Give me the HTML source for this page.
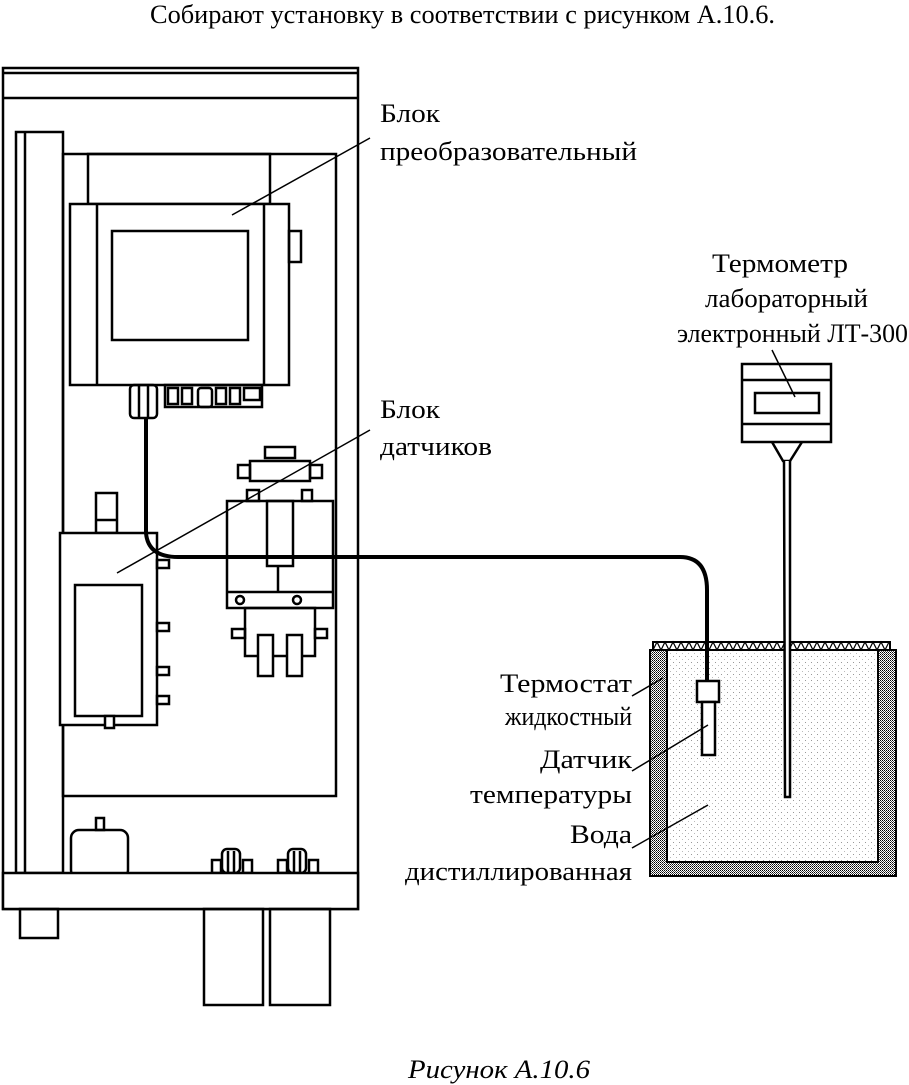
<!DOCTYPE html>
<html><head><meta charset="utf-8"><style>
html,body{margin:0;padding:0;background:#fff;}
svg{display:block;}
text{font-family:"Liberation Serif","Noto Serif CJK SC",serif;font-size:26px;fill:#000;}
</style></head><body>
<svg width="909" height="1085" viewBox="0 0 909 1085" xmlns="http://www.w3.org/2000/svg">
<defs>
<pattern id="dots" width="6" height="6" patternUnits="userSpaceOnUse"><rect width="6" height="6" fill="#fff"/><rect x="1" y="2" width="1" height="1" fill="#999"/><rect x="4" y="5" width="1" height="1" fill="#bbb"/></pattern>
<pattern id="wall" width="2" height="2" patternUnits="userSpaceOnUse"><rect width="2" height="2" fill="#fff"/><rect width="1" height="1" fill="#000"/><rect x="1" y="1" width="1" height="1" fill="#444"/></pattern>
</defs>
<text x="150" y="23" textLength="625" lengthAdjust="spacingAndGlyphs">Собирают установку в соответствии с рисунком А.10.6.</text>
<g fill="none" stroke="#000" stroke-width="2.5">
<!-- cabinet -->
<rect x="3" y="68" width="355" height="841"/>
<line x1="3" y1="73" x2="358" y2="73"/>
<line x1="3" y1="98" x2="358" y2="98"/>
<rect x="16" y="132" width="47" height="741"/>
<line x1="25" y1="132" x2="25" y2="873"/>
<rect x="63" y="154" width="273" height="642"/>
<!-- transducer -->
<rect x="88" y="154" width="182" height="50"/>
<rect x="70" y="204" width="219" height="181" fill="#fff"/>
<line x1="97" y1="204" x2="97" y2="385"/>
<line x1="264" y1="204" x2="264" y2="385"/>
<rect x="112" y="231" width="136" height="109"/>
<rect x="289" y="231" width="12" height="31"/>
<rect x="130" y="385" width="27" height="33" rx="4"/>
<line x1="139" y1="385" x2="139" y2="418"/><line x1="148" y1="385" x2="148" y2="418"/>
<rect x="165" y="385" width="97" height="22"/>
<rect x="168" y="388" width="10" height="16"/><rect x="182" y="388" width="10" height="16"/><rect x="198" y="388" width="14" height="19" rx="3"/><rect x="216" y="388" width="10" height="16"/><rect x="230" y="388" width="10" height="16"/><rect x="244" y="388" width="16" height="12"/>
<!-- sensor block -->
<rect x="96" y="493" width="21" height="40"/><line x1="96" y1="520" x2="117" y2="520"/>
<rect x="60" y="533" width="97" height="192" fill="#fff"/>
<rect x="75" y="585" width="67" height="131"/>
<rect x="105" y="716" width="9" height="12" fill="#fff"/>
<rect x="157" y="560" width="12" height="8"/><rect x="157" y="623" width="12" height="8"/><rect x="157" y="667" width="12" height="8"/><rect x="157" y="696" width="12" height="8"/>
<!-- flow cell -->
<rect x="265" y="447" width="30" height="11"/>
<rect x="238" y="465" width="12" height="13"/><rect x="310" y="465" width="12" height="13"/>
<rect x="250" y="461" width="60" height="20"/>
<rect x="247" y="490" width="12" height="11"/><rect x="302" y="490" width="10" height="11"/>
<rect x="227" y="501" width="106" height="107"/>
<rect x="267" y="501" width="26" height="65"/>
<line x1="278" y1="566" x2="278" y2="592"/>
<line x1="227" y1="592" x2="333" y2="592"/>
<circle cx="240" cy="600" r="4"/><circle cx="297" cy="600" r="4"/>
<rect x="245" y="608" width="70" height="48"/>
<rect x="232" y="629" width="13" height="9"/><rect x="315" y="629" width="12" height="9"/>
<rect x="258" y="635" width="15" height="41" fill="#fff"/><rect x="287" y="635" width="15" height="41" fill="#fff"/>
<!-- lower -->
<rect x="71" y="830" width="57" height="48" rx="8" fill="#fff"/>
<rect x="96" y="818" width="8" height="12"/>
<rect x="212" y="860" width="9" height="13"/><rect x="222" y="849" width="18" height="24" rx="5"/><line x1="228" y1="851" x2="228" y2="873"/><line x1="234" y1="851" x2="234" y2="873"/><rect x="243" y="860" width="9" height="13"/>
<rect x="278" y="860" width="9" height="13"/><rect x="288" y="849" width="18" height="24" rx="5"/><line x1="294" y1="851" x2="294" y2="873"/><line x1="300" y1="851" x2="300" y2="873"/><rect x="309" y="860" width="9" height="13"/>
<rect x="3" y="873" width="355" height="36" fill="#fff"/>
<rect x="20" y="909" width="38" height="29"/>
<rect x="204" y="909" width="59" height="96"/><rect x="270" y="909" width="60" height="96"/>
<!-- tank -->
<rect x="650" y="650" width="246" height="226" fill="url(#wall)" stroke-width="2"/>
<rect x="667" y="650" width="211" height="212" fill="url(#dots)" stroke-width="2"/>
<rect x="653" y="642" width="237" height="8" fill="#fff" stroke-width="2"/>
<path d="M653 650 L657 642 L661 650 L665 642 L669 650 L673 642 L677 650 L681 642 L685 650 L689 642 L693 650 L697 642 L701 650 L705 642 L709 650 L713 642 L717 650 L721 642 L725 650 L729 642 L733 650 L737 642 L741 650 L745 642 L749 650 L753 642 L757 650 L761 642 L765 650 L769 642 L773 650 L777 642 L781 650 L785 642 L789 650 L793 642 L797 650 L801 642 L805 650 L809 642 L813 650 L817 642 L821 650 L825 642 L829 650 L833 642 L837 650 L841 642 L845 650 L849 642 L853 650 L857 642 L861 650 L865 642 L869 650 L873 642 L877 650 L881 642 L885 650 L889 642" stroke-width="1.2"/>
<!-- thermometer -->
<rect x="742" y="364" width="89" height="78" fill="#fff"/>
<line x1="742" y1="380" x2="831" y2="380"/><line x1="742" y1="424" x2="831" y2="424"/>
<rect x="755" y="393" width="64" height="20"/>
<path d="M772 442 L783 461 L790 461 L802 442"/>
<path d="M784 461 L785 797 L790 797 L790 461" fill="#fff"/>
<!-- sensor -->
<rect x="697" y="681" width="22" height="21" fill="#fff"/>
<rect x="702" y="702" width="13" height="53" fill="#fff"/>
</g>
<!-- cable -->
<path d="M146 418 L146 533 Q148 557 178 557 L680 557 Q707 557 707 590 L707 681" fill="none" stroke="#000" stroke-width="4"/>
<!-- leaders -->
<g stroke="#000" stroke-width="1.5">
<line x1="232" y1="215" x2="370" y2="138"/>
<line x1="117" y1="573" x2="370" y2="430"/>
<line x1="772" y1="350" x2="795" y2="397"/>
<line x1="632" y1="696" x2="663" y2="678"/>
<line x1="632" y1="771" x2="708" y2="725"/>
<line x1="632" y1="848" x2="708" y2="805"/>
</g>
<text x="380" y="122" textLength="60" lengthAdjust="spacingAndGlyphs">Блок</text>
<text x="380" y="160" textLength="257" lengthAdjust="spacingAndGlyphs">преобразовательный</text>
<text x="380" y="418" textLength="60" lengthAdjust="spacingAndGlyphs">Блок</text>
<text x="380" y="455" textLength="112" lengthAdjust="spacingAndGlyphs">датчиков</text>
<text x="712" y="272" textLength="136" lengthAdjust="spacingAndGlyphs">Термометр</text>
<text x="705" y="307" textLength="163" lengthAdjust="spacingAndGlyphs">лабораторный</text>
<text x="677" y="342" textLength="231" lengthAdjust="spacingAndGlyphs">электронный ЛТ-300</text>
<text x="500" y="692" textLength="132" lengthAdjust="spacingAndGlyphs">Термостат</text>
<text x="505" y="725" textLength="127" lengthAdjust="spacingAndGlyphs">жидкостный</text>
<text x="540" y="768" textLength="92" lengthAdjust="spacingAndGlyphs">Датчик</text>
<text x="470" y="803" textLength="162" lengthAdjust="spacingAndGlyphs">температуры</text>
<text x="570" y="843" textLength="62" lengthAdjust="spacingAndGlyphs">Вода</text>
<text x="405" y="880" textLength="227" lengthAdjust="spacingAndGlyphs">дистиллированная</text>
<text x="408" y="1078" font-style="italic" textLength="182" lengthAdjust="spacingAndGlyphs">Рисунок А.10.6</text>
</svg>
</body></html>
